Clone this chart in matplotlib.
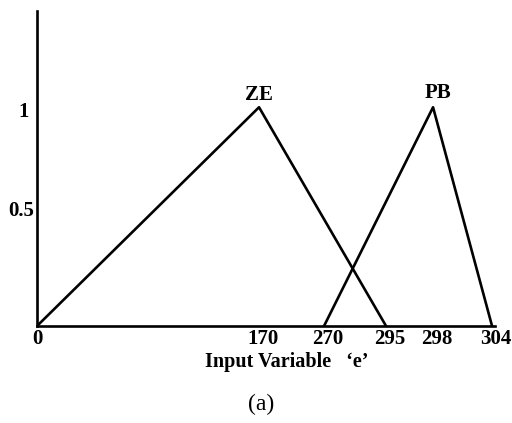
import numpy as np
import matplotlib
matplotlib.use('Agg')
import matplotlib.pyplot as plt
import matplotlib.transforms as mtransforms

plt.rcParams['font.family'] = ['Liberation Serif', 'DejaVu Serif']

# membership functions (input variable e)
ze_x = [0, 170, 295]
ze_y = [0, 1, 0]
pb_x = [270, 298, 304]
pb_y = [0, 1, 0]
x_ticks = [0, 170, 270, 295, 298, 304]
y_ticks = [0.5, 1]

# the axis in the figure is schematic, not linear: piecewise scale
scale_vals = [0, 170, 270, 295, 298, 304, 310]
scale_pos = [0, 222, 287, 349, 396, 455, 514]


def fwd(v):
    return np.interp(v, scale_vals, scale_pos)


def inv(p):
    return np.interp(p, scale_pos, scale_vals)


fig = plt.figure(figsize=(5.12, 4.23), dpi=100)
ax = fig.add_axes([0.0723, 0.2293, 0.8945, 0.7447])
ax.set_xscale('function', functions=(fwd, inv))

ax.plot(ze_x, ze_y, color='black', lw=1.9)
ax.plot(pb_x, pb_y, color='black', lw=1.9)

ax.set_xlim(0, 304.3)
ax.set_ylim(0, 1.44)
ax.set_xticks(x_ticks)
ax.set_xticklabels([str(t) for t in x_ticks])
ax.set_yticks(y_ticks)
ax.set_yticklabels(['0.5', '1'])
ax.tick_params(axis='x', length=0, labelsize=15, pad=2)
ax.tick_params(axis='y', length=0, labelsize=15, pad=4)

# labels sit a little right of their ticks in the original
shift = mtransforms.ScaledTranslation(4 / 100, 0, fig.dpi_scale_trans)
for i, lbl in enumerate(ax.get_xticklabels()):
    lbl.set_fontweight('bold')
    if i > 0:
        lbl.set_transform(lbl.get_transform() + shift)
for lbl in ax.get_yticklabels():
    lbl.set_fontweight('bold')
ylbls = ax.get_yticklabels()
ylbls[0].set_transform(ylbls[0].get_transform()
                       + mtransforms.ScaledTranslation(3 / 100, 8 / 100, fig.dpi_scale_trans))
ylbls[1].set_transform(ylbls[1].get_transform()
                       + mtransforms.ScaledTranslation(-3 / 100, -2 / 100, fig.dpi_scale_trans))

for s in ['top', 'right']:
    ax.spines[s].set_visible(False)
for s in ['left', 'bottom']:
    ax.spines[s].set_linewidth(1.9)

ax.text(170, 1.01, 'ZE', ha='center', va='bottom', fontsize=15, fontweight='bold')
ax.text(298.5, 1.02, 'PB', ha='center', va='bottom', fontsize=15, fontweight='bold')

fig.text(0.5596, 0.1442, 'Input Variable   \u2018e\u2019', ha='center', va='center',
         fontsize=14.5, fontweight='bold')
fig.text(0.51, 0.043, '(a)', ha='center', va='center', fontsize=17)

fig.savefig('out.png', dpi=100)
